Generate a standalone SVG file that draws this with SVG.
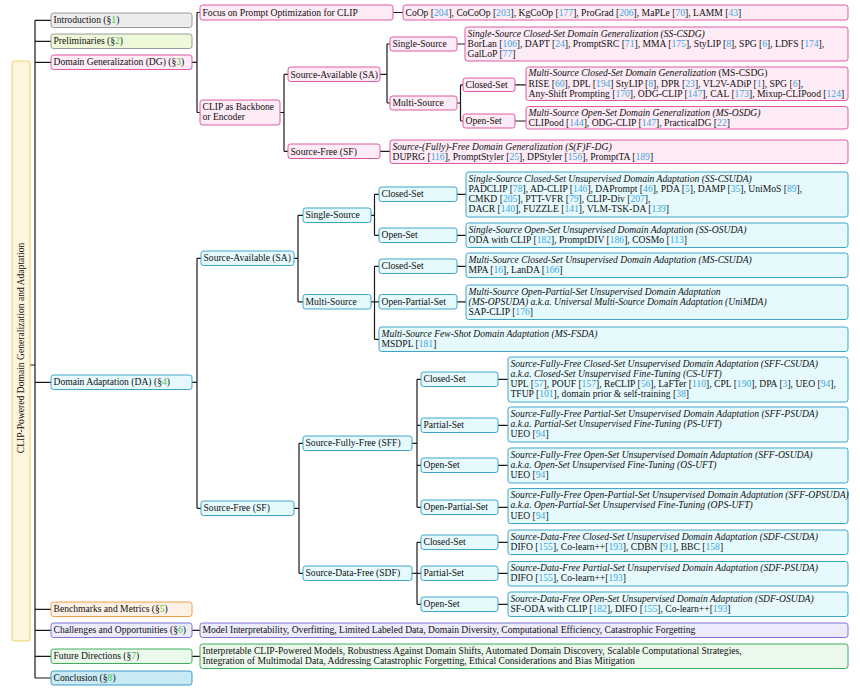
<svg xmlns="http://www.w3.org/2000/svg" width="860" height="694" viewBox="0 0 860 694">
<style>
text{font-family:"Liberation Serif","Times New Roman",serif;font-size:9.6px;fill:#111}
.i{font-style:italic}
.c{fill:#3ba6dc}
.g{fill:#3cc83c}
rect{stroke-width:1}
.pk{fill:#fdebf6;stroke:#dc5aa3}
.cy{fill:#e6fafd;stroke:#3ea5c9}
.gy{fill:#ececec;stroke:#9a9a9a}
.pr{fill:#eef9d9;stroke:#9a9a9a}
.or{fill:#fdf0e4;stroke:#f0a04c}
.pu{fill:#ecebfb;stroke:#7d72d8}
.gr{fill:#ebf8ec;stroke:#3fae5c}
.bl{fill:#c8eaf5;stroke:#3a9cc8}
.rt{fill:#fdf6dc;stroke:#f3cf6a}
.e{fill:none;stroke:#1a1a1a;stroke-width:1.2}
</style>
<rect width="860" height="694" fill="#ffffff"/>
<g id="connectors" class="e">
<path d="M30,365H35M35,20.3V678M35,20.3H51M35,41.3H51M35,62.3H51M35,382.3H51M35,609.3H51M35,630.3H51M35,656.3H51M35,678H51"/>
<path d="M192,62.3H197M197,12.5V112.5M197,12.5H200M197,112.5H200M393,12.5H403"/>
<path d="M280,112.5H284M284,74.3V151.3M284,74.3H288M284,151.3H288"/>
<path d="M380,74.3H387M387,44V103M387,44H390M387,103H390M457,44H465"/>
<path d="M457,103H460.5M460.5,84.8V121M460.5,84.8H463M460.5,121H463M515,84.8H526M515,121H526M380,151.3H390"/>
<path d="M192,382.3H197M197,258.3V508.3M197,258.3H201M197,508.3H201"/>
<path d="M294,258.3H298M298,215.3V301.8M298,215.3H303M298,301.8H303"/>
<path d="M371,215.3H374.5M374.5,194.3V235.3M374.5,194.3H379M374.5,235.3H379M457,194.3H466M457,235.3H466"/>
<path d="M371,301.8H374.5M374.5,266.3V339.3M374.5,266.3H379M374.5,301.8H379M374.5,339.3H379M457,266.3H466M457,301.8H466"/>
<path d="M294,508.3H299M299,443.3V573.3M299,443.3H303M299,573.3H303"/>
<path d="M412,443.3H417M417,379.3V507.3M417,379.3H421M417,425.3H421M417,465.3H421M417,507.3H421M498,379.3H508M498,425.3H508M498,465.3H508M498,507.3H508"/>
<path d="M412,573.3H417M417,542.3V604.3M417,542.3H421M417,573.3H421M417,604.3H421M498,542.3H508M498,573.3H508M498,604.3H508"/>
<path d="M192,630.3H200M192,656.3H200"/>
</g>
<g id="root"><rect class="rt" x="12" y="61" width="18" height="580" rx="2.5"/><text transform="translate(24.3,348) rotate(-90)" text-anchor="middle">CLIP-Powered Domain Generalization and Adaptation</text></g>
<g id="intro"><rect class="gy" x="51" y="13" width="141" height="14.5" rx="2.5"/><text x="53.5" y="23.3">Introduction (§<tspan class="g">1</tspan>)</text></g>
<g id="prelim"><rect class="pr" x="51" y="34" width="141" height="14.5" rx="2.5"/><text x="53.5" y="44.3">Preliminaries (§<tspan class="g">2</tspan>)</text></g>
<g id="dg"><rect class="pk" x="51" y="55" width="141" height="14.5" rx="2.5"/><text x="53.5" y="65.3">Domain Generalization (DG) (§<tspan class="g">3</tspan>)</text></g>
<g id="dg-focus"><rect class="pk" x="200" y="5" width="193" height="15" rx="2.5"/><text x="202.5" y="15.5">Focus on Prompt Optimization for CLIP</text></g>
<g id="dg-coop"><rect class="pk" x="403" y="5" width="445" height="15" rx="2.5"/><text x="405.5" y="15.5">CoOp [<tspan class="c">204</tspan>], CoCoOp [<tspan class="c">203</tspan>], KgCoOp [<tspan class="c">177</tspan>], ProGrad [<tspan class="c">206</tspan>], MaPLe [<tspan class="c">70</tspan>], LAMM [<tspan class="c">43</tspan>]</text></g>
<g id="dg-backbone"><rect class="pk" x="200" y="100" width="80" height="25" rx="2.5"/><text x="202.5" y="110">CLIP as Backbone</text><text x="202.5" y="120.3">or Encoder</text></g>
<g id="dg-sa"><rect class="pk" x="288" y="67" width="92" height="14.5" rx="2.5"/><text x="290.5" y="77.5">Source-Available (SA)</text></g>
<g id="dg-sf"><rect class="pk" x="288" y="144" width="92" height="14.5" rx="2.5"/><text x="290.5" y="154.5">Source-Free (SF)</text></g>
<g id="dg-ss"><rect class="pk" x="390" y="37" width="67" height="14" rx="2.5"/><text x="392.5" y="47.3">Single-Source</text></g>
<g id="dg-sscsdg"><rect class="pk" x="465" y="27" width="383" height="34" rx="2.5"/><text x="467.5" y="36.5" class="i">Single-Source Closed-Set Domain Generalization (SS-CSDG)</text><text x="467.5" y="46.8">BorLan [<tspan class="c">106</tspan>], DAPT [<tspan class="c">24</tspan>], PromptSRC [<tspan class="c">71</tspan>], MMA [<tspan class="c">175</tspan>], StyLIP [<tspan class="c">8</tspan>], SPG [<tspan class="c">6</tspan>], LDFS [<tspan class="c">174</tspan>],</text><text x="467.5" y="57.1">GalLoP [<tspan class="c">77</tspan>]</text></g>
<g id="dg-ms"><rect class="pk" x="390" y="96" width="67" height="14" rx="2.5"/><text x="392.5" y="106.3">Multi-Source</text></g>
<g id="dg-cs"><rect class="pk" x="463" y="78" width="52" height="13.5" rx="2.5"/><text x="465.5" y="88">Closed-Set</text></g>
<g id="dg-os"><rect class="pk" x="463" y="114" width="52" height="14" rx="2.5"/><text x="465.5" y="124.3">Open-Set</text></g>
<g id="dg-mscsdg"><rect class="pk" x="526" y="67" width="322" height="33.5" rx="2.5"/><text x="528.5" y="76.3"><tspan class="i">Multi-Source Closed-Set Domain Generalization</tspan> (MS-CSDG)</text><text x="528.5" y="86.6">RISE [<tspan class="c">60</tspan>], DPL [<tspan class="c">194</tspan>] StyLIP [<tspan class="c">8</tspan>], DPR [<tspan class="c">23</tspan>], VL2V-ADiP [<tspan class="c">1</tspan>], SPG [<tspan class="c">6</tspan>],</text><text x="528.5" y="96.9">Any-Shift Prompting [<tspan class="c">170</tspan>], ODG-CLIP [<tspan class="c">147</tspan>], CAL [<tspan class="c">173</tspan>], Mixup-CLIPood [<tspan class="c">124</tspan>]</text></g>
<g id="dg-msosdg"><rect class="pk" x="526" y="106.5" width="322" height="22.5" rx="2.5"/><text x="528.5" y="115.8" class="i">Multi-Source Open-Set Domain Generalization (MS-OSDG)</text><text x="528.5" y="125.8">CLIPood [<tspan class="c">144</tspan>], ODG-CLIP [<tspan class="c">147</tspan>], PracticalDG [<tspan class="c">22</tspan>]</text></g>
<g id="dg-sffdg"><rect class="pk" x="390" y="140" width="458" height="23.5" rx="2.5"/><text x="392.5" y="149.5" class="i">Source-(Fully)-Free Domain Generalization (S(F)F-DG)</text><text x="392.5" y="159.8">DUPRG [<tspan class="c">116</tspan>], PromptStyler [<tspan class="c">25</tspan>], DPStyler [<tspan class="c">156</tspan>], PromptTA [<tspan class="c">189</tspan>]</text></g>
<g id="da"><rect class="cy" x="51" y="375" width="141" height="14.5" rx="2.5"/><text x="53.5" y="385.3">Domain Adaptation (DA) (§<tspan class="g">4</tspan>)</text></g>
<g id="da-sa"><rect class="cy" x="201" y="251" width="93" height="14.5" rx="2.5"/><text x="203.5" y="261.3">Source-Available (SA)</text></g>
<g id="da-ss"><rect class="cy" x="303" y="208" width="68" height="14.5" rx="2.5"/><text x="305.5" y="218.3">Single-Source</text></g>
<g id="da-ss-cs"><rect class="cy" x="379" y="187" width="78" height="14.5" rx="2.5"/><text x="381.5" y="197.3">Closed-Set</text></g>
<g id="da-ss-os"><rect class="cy" x="379" y="228" width="78" height="14.5" rx="2.5"/><text x="381.5" y="238.3">Open-Set</text></g>
<g id="da-sscsuda"><rect class="cy" x="466" y="172" width="382" height="45" rx="2.5"/><text x="468.5" y="181.5" class="i">Single-Source Closed-Set Unsupervised Domain Adaptation (SS-CSUDA)</text><text x="468.5" y="191.8">PADCLIP [<tspan class="c">78</tspan>], AD-CLIP [<tspan class="c">146</tspan>], DAPrompt [<tspan class="c">46</tspan>], PDA [<tspan class="c">5</tspan>], DAMP [<tspan class="c">35</tspan>], UniMoS [<tspan class="c">89</tspan>],</text><text x="468.5" y="202.1">CMKD [<tspan class="c">205</tspan>], PTT-VFR [<tspan class="c">79</tspan>], CLIP-Div [<tspan class="c">207</tspan>],</text><text x="468.5" y="212.4">DACR [<tspan class="c">140</tspan>], FUZZLE [<tspan class="c">141</tspan>], VLM-TSK-DA [<tspan class="c">139</tspan>]</text></g>
<g id="da-ssosuda"><rect class="cy" x="466" y="223" width="382" height="24.5" rx="2.5"/><text x="468.5" y="232.5" class="i">Single-Source Open-Set Unsupervised Domain Adaptation (SS-OSUDA)</text><text x="468.5" y="242.8">ODA with CLIP [<tspan class="c">182</tspan>], PromptDIV [<tspan class="c">186</tspan>], COSMo [<tspan class="c">113</tspan>]</text></g>
<g id="da-ms"><rect class="cy" x="303" y="294.5" width="68" height="14.5" rx="2.5"/><text x="305.5" y="304.8">Multi-Source</text></g>
<g id="da-ms-cs"><rect class="cy" x="379" y="259" width="78" height="14.5" rx="2.5"/><text x="381.5" y="269.3">Closed-Set</text></g>
<g id="da-ms-ops"><rect class="cy" x="379" y="294.5" width="78" height="14.5" rx="2.5"/><text x="381.5" y="304.8">Open-Partial-Set</text></g>
<g id="da-mscsuda"><rect class="cy" x="466" y="253" width="382" height="24.5" rx="2.5"/><text x="468.5" y="262.5" class="i">Multi-Source Closed-Set Unsupervised Domain Adaptation (MS-CSUDA)</text><text x="468.5" y="272.8">MPA [<tspan class="c">16</tspan>], LanDA [<tspan class="c">166</tspan>]</text></g>
<g id="da-msopsuda"><rect class="cy" x="466" y="285" width="382" height="34.5" rx="2.5"/><text x="468.5" y="294.5" class="i">Multi-Source Open-Partial-Set Unsupervised Domain Adaptation</text><text x="468.5" y="304.8" class="i">(MS-OPSUDA) a.k.a. Universal Multi-Source Domain Adaptation (UniMDA)</text><text x="468.5" y="315.1">SAP-CLIP [<tspan class="c">176</tspan>]</text></g>
<g id="da-msfsda"><rect class="cy" x="379" y="327" width="469" height="24.5" rx="2.5"/><text x="381.5" y="336.5" class="i">Multi-Source Few-Shot Domain Adaptation (MS-FSDA)</text><text x="381.5" y="346.8">MSDPL [<tspan class="c">181</tspan>]</text></g>
<g id="da-sf"><rect class="cy" x="201" y="501" width="93" height="14.5" rx="2.5"/><text x="203.5" y="511.3">Source-Free (SF)</text></g>
<g id="da-sff"><rect class="cy" x="303" y="436" width="109" height="14.5" rx="2.5"/><text x="305.5" y="446.3">Source-Fully-Free (SFF)</text></g>
<g id="da-sff-cs"><rect class="cy" x="421" y="372" width="77" height="14.5" rx="2.5"/><text x="423.5" y="382.3">Closed-Set</text></g>
<g id="da-sff-ps"><rect class="cy" x="421" y="418" width="77" height="14.5" rx="2.5"/><text x="423.5" y="428.3">Partial-Set</text></g>
<g id="da-sff-os"><rect class="cy" x="421" y="458" width="77" height="14.5" rx="2.5"/><text x="423.5" y="468.3">Open-Set</text></g>
<g id="da-sff-ops"><rect class="cy" x="421" y="500" width="77" height="14.5" rx="2.5"/><text x="423.5" y="510.3">Open-Partial-Set</text></g>
<g id="da-sffcsuda"><rect class="cy" x="508" y="357" width="340" height="45" rx="2.5"/><text x="510.5" y="366.5" class="i">Source-Fully-Free Closed-Set Unsupervised Domain Adaptation (SFF-CSUDA)</text><text x="510.5" y="376.8" class="i">a.k.a. Closed-Set Unsupervised Fine-Tuning (CS-UFT)</text><text x="510.5" y="387.1">UPL [<tspan class="c">57</tspan>], POUF [<tspan class="c">157</tspan>], ReCLIP [<tspan class="c">56</tspan>], LaFTer [<tspan class="c">110</tspan>], CPL [<tspan class="c">190</tspan>], DPA [<tspan class="c">3</tspan>], UEO [<tspan class="c">94</tspan>],</text><text x="510.5" y="397.4">TFUP [<tspan class="c">101</tspan>], domain prior &amp; self-training [<tspan class="c">38</tspan>]</text></g>
<g id="da-sffpsuda"><rect class="cy" x="508" y="407" width="340" height="35" rx="2.5"/><text x="510.5" y="416.5" class="i">Source-Fully-Free Partial-Set Unsupervised Domain Adaptation (SFF-PSUDA)</text><text x="510.5" y="426.8" class="i">a.k.a. Partial-Set Unsupervised Fine-Tuning (PS-UFT)</text><text x="510.5" y="437.1">UEO [<tspan class="c">94</tspan>]</text></g>
<g id="da-sffosuda"><rect class="cy" x="508" y="448" width="340" height="35" rx="2.5"/><text x="510.5" y="457.5" class="i">Source-Fully-Free Open-Set Unsupervised Domain Adaptation (SFF-OSUDA)</text><text x="510.5" y="467.8" class="i">a.k.a. Open-Set Unsupervised Fine-Tuning (OS-UFT)</text><text x="510.5" y="478.1">UEO [<tspan class="c">94</tspan>]</text></g>
<g id="da-sffopsuda"><rect class="cy" x="508" y="488.5" width="340" height="35" rx="2.5"/><text x="510.5" y="498" class="i">Source-Fully-Free Open-Partial-Set Unsupervised Domain Adaptation (SFF-OPSUDA)</text><text x="510.5" y="508.3" class="i">a.k.a. Open-Partial-Set Unsupervised Fine-Tuning (OPS-UFT)</text><text x="510.5" y="518.6">UEO [<tspan class="c">94</tspan>]</text></g>
<g id="da-sdf"><rect class="cy" x="303" y="566" width="109" height="14.5" rx="2.5"/><text x="305.5" y="576.3">Source-Data-Free (SDF)</text></g>
<g id="da-sdf-cs"><rect class="cy" x="421" y="535" width="77" height="14.5" rx="2.5"/><text x="423.5" y="545.3">Closed-Set</text></g>
<g id="da-sdf-ps"><rect class="cy" x="421" y="566" width="77" height="14.5" rx="2.5"/><text x="423.5" y="576.3">Partial-Set</text></g>
<g id="da-sdf-os"><rect class="cy" x="421" y="597" width="77" height="14.5" rx="2.5"/><text x="423.5" y="607.3">Open-Set</text></g>
<g id="da-sdfcsuda"><rect class="cy" x="508" y="530" width="340" height="24.5" rx="2.5"/><text x="510.5" y="539.5" class="i">Source-Data-Free Closed-Set Unsupervised Domain Adaptation (SDF-CSUDA)</text><text x="510.5" y="549.8">DIFO [<tspan class="c">155</tspan>], Co-learn++[<tspan class="c">193</tspan>], CDBN [<tspan class="c">91</tspan>], BBC [<tspan class="c">158</tspan>]</text></g>
<g id="da-sdfpsuda"><rect class="cy" x="508" y="561.5" width="340" height="24.5" rx="2.5"/><text x="510.5" y="571" class="i">Source-Data-Free Partial-Set Unsupervised Domain Adaptation (SDF-PSUDA)</text><text x="510.5" y="581.3">DIFO [<tspan class="c">155</tspan>], Co-learn++[<tspan class="c">193</tspan>]</text></g>
<g id="da-sdfosuda"><rect class="cy" x="508" y="592" width="340" height="24.5" rx="2.5"/><text x="510.5" y="601.5" class="i">Source-Data-Free OPen-Set Unsupervised Domain Adaptation (SDF-OSUDA)</text><text x="510.5" y="611.8">SF-ODA with CLIP [<tspan class="c">182</tspan>], DIFO [<tspan class="c">155</tspan>], Co-learn++[<tspan class="c">193</tspan>]</text></g>
<g id="bench"><rect class="or" x="51" y="602" width="141" height="14.5" rx="2.5"/><text x="53.5" y="612.3">Benchmarks and Metrics (§<tspan class="g">5</tspan>)</text></g>
<g id="chall"><rect class="pu" x="51" y="623" width="141" height="14.5" rx="2.5"/><text x="53.5" y="633.3">Challenges and Opportunities (§<tspan class="g">6</tspan>)</text></g>
<g id="chall-items"><rect class="pu" x="200" y="623" width="648" height="14.5" rx="2.5"/><text x="202.5" y="633.3">Model Interpretability, Overfitting, Limited Labeled Data, Domain Diversity, Computational Efficiency, Catastrophic Forgetting</text></g>
<g id="future"><rect class="gr" x="51" y="649" width="141" height="14.5" rx="2.5"/><text x="53.5" y="659.3">Future Directions (§<tspan class="g">7</tspan>)</text></g>
<g id="future-items"><rect class="gr" x="200" y="644" width="648" height="24.5" rx="2.5"/><text x="202.5" y="653.5">Interpretable CLIP-Powered Models, Robustness Against Domain Shifts, Automated Domain Discovery, Scalable Computational Strategies,</text><text x="202.5" y="663.8">Integration of Multimodal Data, Addressing Catastrophic Forgetting, Ethical Considerations and Bias Mitigation</text></g>
<g id="concl"><rect class="bl" x="51" y="671" width="141" height="14" rx="2.5"/><text x="53.5" y="681">Conclusion (§<tspan class="g">8</tspan>)</text></g>
</svg>
